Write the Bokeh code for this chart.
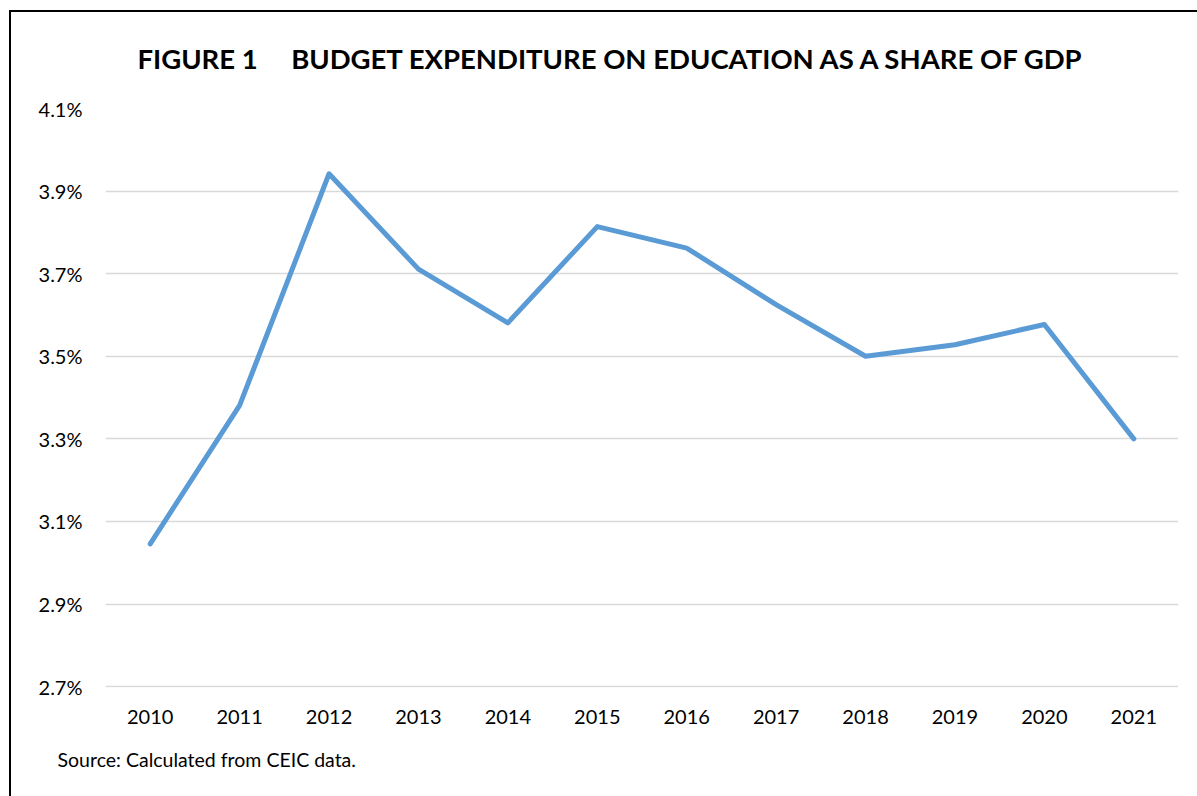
from bokeh.plotting import figure
from bokeh.models import (FactorRange, Range1d, FixedTicker, PrintfTickFormatter,
                          Title)
from bokeh.embed import file_html
from bokeh.resources import INLINE

years = ["2010", "2011", "2012", "2013", "2014", "2015", "2016", "2017",
         "2018", "2019", "2020", "2021"]
share_pct = [3.046, 3.381, 3.942, 3.711, 3.581, 3.814, 3.762, 3.625,
             3.500, 3.528, 3.577, 3.300]
y_ticks = [2.7, 2.9, 3.1, 3.3, 3.5, 3.7, 3.9, 4.1]

NBSP = "\u00a0"
title_text = "FIGURE 1" + NBSP * 5 + "BUDGET EXPENDITURE ON EDUCATION AS A SHARE OF GDP"
source_text = "Source: Calculated from CEIC data."

FONT = "Lato"

p = figure(width=1197, height=796, x_range=FactorRange(*years),
           y_range=Range1d(2.698, 4.1), output_backend="svg",
           toolbar_location=None, min_border_left=105, min_border_right=19,
           min_border_top=108, min_border_bottom=109)
p.outline_line_color = None
p.background_fill_color = "white"
p.border_fill_color = None
p.styles = {
    "background": "linear-gradient(#000, #000) 9px 10px / 2px 100% no-repeat, "
                  "linear-gradient(#000, #000) 9px 10px / 100% 2px no-repeat, "
                  "#ffffff"
}

p.title.text = title_text
p.title.text_font = FONT
p.title.text_font_style = "bold"
p.title.text_font_size = "27.5px"
p.title.text_color = "#000000"
p.title.align = "left"
p.title.offset = 32
p.title.standoff = 67

p.line(years, share_pct, line_color="#5B9BD5", line_width=5,
       line_join="round", line_cap="round")

# axes
p.yaxis.ticker = FixedTicker(ticks=y_ticks)
p.yaxis.formatter = PrintfTickFormatter(format="%.1f%%")
for ax in (p.xaxis[0], p.yaxis[0]):
    ax.axis_line_color = None
    ax.major_tick_line_color = None
    ax.minor_tick_line_color = None
    ax.major_tick_out = 0
    ax.major_tick_in = 0
    ax.minor_tick_out = 0
    ax.major_label_text_font = FONT
    ax.major_label_text_font_size = "20px"
    ax.major_label_text_color = "#000000"
p.yaxis.major_label_standoff = 23
p.xaxis.major_label_standoff = 22

p.xgrid.grid_line_color = None
p.ygrid.ticker = FixedTicker(ticks=y_ticks)
p.ygrid.grid_line_color = "#D9D9D9"
p.ygrid.grid_line_width = 1.5

# source note below the axis
p.add_layout(Title(text=source_text, align="left", offset=-48,
                   text_font=FONT, text_font_size="19.5px",
                   text_font_style="normal", text_color="#000000",
                   standoff=39), "below")

open("out.html", "w").write(file_html(p, INLINE))
